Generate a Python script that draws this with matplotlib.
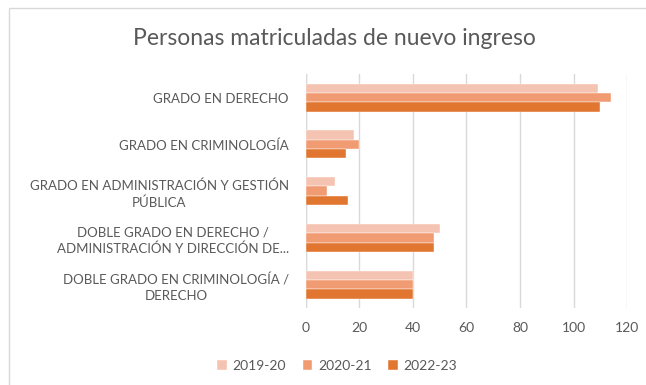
import numpy as np
import matplotlib.pyplot as plt
from matplotlib.patches import Rectangle

plt.rcParams['font.family'] = ['Lato', 'DejaVu Sans']

categorias = ['GRADO EN DERECHO',
              'GRADO EN CRIMINOLOGÍA',
              'GRADO EN ADMINISTRACIÓN Y GESTIÓN\nPÚBLICA',
              'DOBLE GRADO EN DERECHO /\nADMINISTRACIÓN Y DIRECCIÓN DE...',
              'DOBLE GRADO EN CRIMINOLOGÍA /\nDERECHO']
cursos = ['2019-20', '2020-21', '2022-23']
v_2019_20 = [109, 18, 11, 50, 40]
v_2020_21 = [114, 20, 8, 48, 40]
v_2022_23 = [110, 15, 16, 48, 40]
colores = ['#F5C3B1', '#F09B71', '#E0762F']
gris = '#595959'

fig = plt.figure(figsize=(6.46, 3.85), dpi=100)
ax = fig.add_axes([0.473, 0.2, 0.498, 0.607])

y = np.arange(len(categorias))
h = 0.2
for i, (vals, nombre) in enumerate(zip([v_2019_20, v_2020_21, v_2022_23], cursos)):
    ax.barh(y + (i - 1) * h, vals, height=h, color=colores[i], label=nombre,
            edgecolor='white', linewidth=0.3, zorder=3)

ax.set_ylim(len(categorias) - 0.5, -0.5)
ax.set_xlim(0, 120)
ax.set_xticks(range(0, 121, 20))
ax.set_yticks(y)
ax.set_yticklabels(categorias, ha='right', multialignment='center', linespacing=1.4)
ax.tick_params(axis='y', length=0, pad=12, labelsize=9.5, labelcolor=gris)
ax.tick_params(axis='x', length=0, pad=10, labelsize=10, labelcolor=gris)
ax.xaxis.grid(True, color='#D9D9D9', linewidth=1, zorder=0)
for s in ax.spines.values():
    s.set_visible(False)
ax.axvline(0, color='#D9D9D9', linewidth=1, zorder=1)

fig.text(0.517, 0.9, 'Personas matriculadas de nuevo ingreso', ha='center', va='center',
         fontsize=16.5, color=gris)

leg = fig.legend(loc='center', bbox_to_anchor=(0.522, 0.05), ncol=3, frameon=False,
                 fontsize=10, handlelength=0.7, handleheight=0.7, columnspacing=1.2,
                 handletextpad=0.4)
for t in leg.get_texts():
    t.set_color(gris)

# borde exterior del gráfico
fig.patches.append(Rectangle((9 / 646, -0.1), 1.2, 1.1 - 8 / 385,
                             transform=fig.transFigure, fill=False,
                             edgecolor='#D9D9D9', linewidth=1))

fig.savefig('out.png', dpi=100)
